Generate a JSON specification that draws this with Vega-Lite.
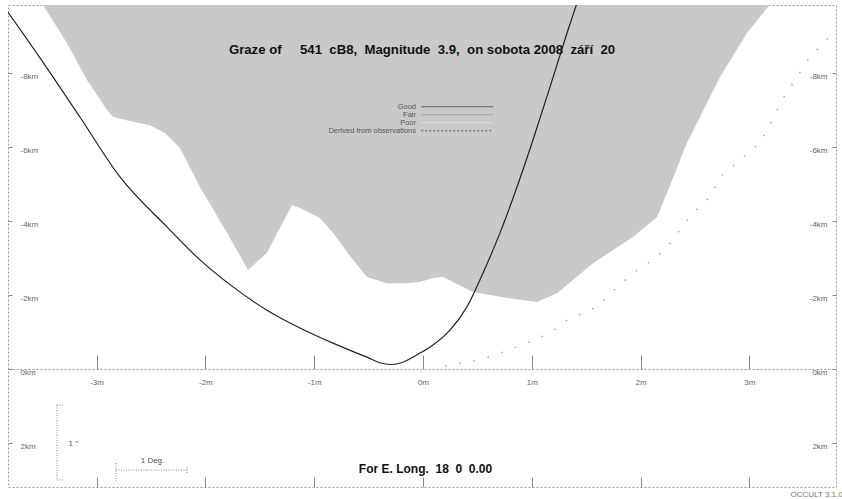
{
  "$schema": "https://vega.github.io/schema/vega-lite/v6.json",
  "width": 828,
  "height": 482,
  "autosize": {"type": "none"},
  "padding": {"left": 8, "top": 5, "right": 6, "bottom": 12},
  "background": "white",
  "config": {
    "view": {"stroke": "#9a9a9a", "strokeDash": [2, 2], "strokeWidth": 1},
    "font": "Liberation Sans",
    "axis": {"grid": false, "labelFont": "Liberation Sans", "labelFontSize": 8, "labelColor": "#666", "tickColor": "#888", "domain": false, "titleFont": "Liberation Sans"}
  },
  "title": {
    "text": "Graze of\u00a0\u00a0\u00a0\u00a0\u00a0541\u00a0\u00a0cB8,\u00a0\u00a0Magnitude\u00a0\u00a03.9,\u00a0\u00a0on sobota 2008\u00a0\u00a0září\u00a0\u00a020",
    "font": "Liberation Sans",
    "fontSize": 13.2,
    "fontWeight": "bold",
    "color": "#111",
    "anchor": "middle",
    "offset": -62,
    "baseline": "alphabetic"
  },
  "datasets": {
    "limb": [
      {"t": -3.493, "km": -9.84}, {"t": -3.272, "km": -8.81}, {"t": -3.088, "km": -7.81}, {"t": -2.904, "km": -7.0},
      {"t": -2.849, "km": -6.81}, {"t": -2.665, "km": -6.68}, {"t": -2.509, "km": -6.59}, {"t": -2.371, "km": -6.38},
      {"t": -2.233, "km": -5.97}, {"t": -2.05, "km": -4.92}, {"t": -1.801, "km": -3.68}, {"t": -1.608, "km": -2.68},
      {"t": -1.434, "km": -3.14}, {"t": -1.204, "km": -4.43}, {"t": -1.131, "km": -4.35}, {"t": -0.947, "km": -4.08},
      {"t": -0.827, "km": -3.68}, {"t": -0.643, "km": -2.95}, {"t": -0.515, "km": -2.49}, {"t": -0.331, "km": -2.32},
      {"t": -0.147, "km": -2.32}, {"t": -0.028, "km": -2.35}, {"t": 0.092, "km": -2.46}, {"t": 0.184, "km": -2.49},
      {"t": 0.46, "km": -2.08}, {"t": 0.708, "km": -1.95}, {"t": 1.048, "km": -1.81}, {"t": 1.232, "km": -2.05},
      {"t": 1.563, "km": -2.86}, {"t": 1.93, "km": -3.57}, {"t": 2.151, "km": -4.11}, {"t": 2.243, "km": -4.76},
      {"t": 2.426, "km": -6.11}, {"t": 2.61, "km": -7.19}, {"t": 2.73, "km": -7.89}, {"t": 2.978, "km": -9.08},
      {"t": 3.162, "km": -9.76}, {"t": 3.189, "km": -9.84}
    ],
    "path": [
      {"t": -3.842, "km": -9.76}, {"t": -3.52, "km": -8.41}, {"t": -3.153, "km": -6.81}, {"t": -2.785, "km": -5.19},
      {"t": -2.353, "km": -3.84}, {"t": -2.05, "km": -2.95}, {"t": -1.746, "km": -2.22}, {"t": -1.434, "km": -1.59},
      {"t": -1.131, "km": -1.11}, {"t": -0.827, "km": -0.7}, {"t": -0.515, "km": -0.32}, {"t": -0.368, "km": -0.149},
      {"t": -0.285, "km": -0.122}, {"t": -0.193, "km": -0.176}, {"t": -0.028, "km": -0.43}, {"t": 0.092, "km": -0.65},
      {"t": 0.248, "km": -1.05}, {"t": 0.404, "km": -1.68}, {"t": 0.551, "km": -2.59}, {"t": 0.708, "km": -3.68},
      {"t": 0.864, "km": -4.92}, {"t": 1.011, "km": -6.19}, {"t": 1.167, "km": -7.62}, {"t": 1.324, "km": -9.08},
      {"t": 1.415, "km": -9.89}
    ],
    "dotted": [
      {"t": 0.202, "km": -0.08}, {"t": 0.34, "km": -0.16}, {"t": 0.524, "km": -0.24}, {"t": 0.708, "km": -0.43},
      {"t": 0.956, "km": -0.7}, {"t": 1.167, "km": -0.97}, {"t": 1.324, "km": -1.32}, {"t": 1.599, "km": -1.68},
      {"t": 1.737, "km": -2.08}, {"t": 1.93, "km": -2.59}, {"t": 2.114, "km": -2.95}, {"t": 2.243, "km": -3.3},
      {"t": 2.362, "km": -3.76}, {"t": 2.482, "km": -4.22}, {"t": 2.638, "km": -4.65}, {"t": 2.73, "km": -5.19},
      {"t": 2.914, "km": -5.65}, {"t": 3.097, "km": -6.11}, {"t": 3.189, "km": -6.59}, {"t": 3.3, "km": -7.27},
      {"t": 3.419, "km": -7.81}, {"t": 3.557, "km": -8.43}, {"t": 3.768, "km": -9.08}
    ],
    "bars": [
      {"x1": -3.364, "x2": -3.364, "y1": 0.973, "y2": 3.0},
      {"x1": -3.364, "x2": -3.31, "y1": 0.973, "y2": 0.973},
      {"x1": -3.364, "x2": -3.31, "y1": 3.0, "y2": 3.0},
      {"x1": -2.822, "x2": -2.169, "y1": 2.73, "y2": 2.73},
      {"x1": -2.822, "x2": -2.822, "y1": 2.54, "y2": 3.05},
      {"x1": -2.169, "x2": -2.169, "y1": 2.65, "y2": 2.84}
    ],
    "quality": [
      {"quality": "Good"}, {"quality": "Fair"}, {"quality": "Poor"}, {"quality": "Derived from observations"}
    ]
  },
  "layer": [
    {
      "data": {"name": "limb"},
      "mark": {"type": "area", "fill": "#c9c9c9", "clip": true},
      "encoding": {
        "x": {
          "field": "t", "type": "quantitative",
          "scale": {"domain": [-3.814, 3.796], "nice": false, "zero": false},
          "axis": {
            "orient": "bottom", "offset": -118, "values": [-3, -2, -1, 0, 1, 2, 3],
            "labelExpr": "datum.value + 'm'", "tickSize": -14, "labelPadding": 23,
            "domain": true, "domainDash": [2, 2], "domainColor": "#999",
            "title": "1 Deg.", "titleX": 144, "titleY": 91, "titleBaseline": "middle", "titleAlign": "center",
            "titleFontSize": 8, "titleFontWeight": "normal", "titleColor": "#555"
          }
        },
        "y": {
          "field": "km", "type": "quantitative",
          "scale": {"domain": [-9.838, 3.189], "reverse": true, "nice": false, "zero": false},
          "axis": {
            "orient": "left", "values": [-8, -6, -4, -2, 0, 2], "labelExpr": "datum.value + 'km'",
            "tickSize": -4, "labelPadding": -8, "labelAlign": "left", "labelOffset": 3,
            "title": "1 \"", "titleAngle": 0, "titleX": 60, "titleY": 438, "titleAlign": "left", "titleBaseline": "middle",
            "titleFontSize": 8, "titleFontWeight": "normal", "titleColor": "#555"
          }
        },
        "y2": {"datum": -9.838}
      }
    },
    {
      "data": {"name": "path"},
      "mark": {"type": "line", "color": "#222", "strokeWidth": 1.2, "interpolate": "monotone", "clip": true},
      "encoding": {
        "x": {
          "field": "t", "type": "quantitative",
          "axis": {
            "orient": "bottom", "values": [-3, -2, -1, 0, 1, 2, 3], "tickSize": -10, "labels": false,
            "title": "For E. Long.\u00a0\u00a018\u00a0\u00a00\u00a0\u00a00.00", "titleX": 417, "titleY": -19,
            "titleBaseline": "middle", "titleAlign": "center", "titleFontSize": 12, "titleFontWeight": "bold", "titleColor": "#111"
          }
        },
        "y": {
          "field": "km", "type": "quantitative",
          "axis": {
            "orient": "right", "values": [-8, -6, -4, -2, 0, 2], "labelExpr": "datum.value + 'km'",
            "tickSize": -4, "labelPadding": -5, "labelAlign": "right", "labelOffset": 3,
            "title": "OCCULT 3.1.0", "titleAngle": 0, "titleX": -46, "titleY": 489, "titleAlign": "left", "titleBaseline": "middle",
            "titleFontSize": 8, "titleFontWeight": "normal", "titleColor": "#777"
          }
        }
      }
    },
    {
      "data": {"name": "dotted"},
      "mark": {"type": "line", "color": "#aaa", "strokeWidth": 1.5, "strokeDash": [1.5, 13], "clip": true},
      "encoding": {
        "x": {"field": "t", "type": "quantitative", "axis": null},
        "y": {"field": "km", "type": "quantitative", "axis": null}
      }
    },
    {
      "data": {"name": "bars"},
      "mark": {"type": "rule", "color": "#888", "strokeDash": [1, 1.5], "strokeWidth": 1},
      "encoding": {
        "x": {"field": "x1", "type": "quantitative", "axis": null},
        "x2": {"field": "x2"},
        "y": {"field": "y1", "type": "quantitative", "axis": null},
        "y2": {"field": "y2"}
      }
    },
    {
      "data": {"name": "quality"},
      "mark": {"type": "line"},
      "encoding": {
        "x": {"field": "t", "type": "quantitative", "axis": null},
        "y": {"field": "km", "type": "quantitative", "axis": null},
        "color": {
          "field": "quality", "type": "nominal",
          "scale": {"domain": ["Good", "Fair", "Poor", "Derived from observations"], "range": ["#555", "#999", "#e2e2e2", "#555"]},
          "legend": {
            "orient": "none", "legendX": 439, "legendY": 98, "title": null, "padding": 0,
            "symbolType": "M-12,0H12", "symbolSize": 36, "symbolStrokeWidth": 1,
            "labelAlign": "right", "labelOffset": -45, "symbolOffset": 6.5,
            "labelFontSize": 7.5, "labelColor": "#555", "labelFont": "Liberation Sans", "rowPadding": -1
          }
        },
        "strokeDash": {
          "field": "quality", "type": "nominal",
          "scale": {"domain": ["Good", "Fair", "Poor", "Derived from observations"], "range": [[1, 0], [1, 0], [1, 0], [2, 2]]},
          "legend": {
            "orient": "none", "legendX": 439, "legendY": 98, "title": null, "padding": 0,
            "symbolType": "M-12,0H12", "symbolSize": 36, "symbolStrokeWidth": 1,
            "labelAlign": "right", "labelOffset": -45, "symbolOffset": 6.5,
            "labelFontSize": 7.5, "labelColor": "#555", "labelFont": "Liberation Sans", "rowPadding": -1
          }
        }
      }
    }
  ],
  "resolve": {"axis": {"x": "independent", "y": "independent"}}
}
